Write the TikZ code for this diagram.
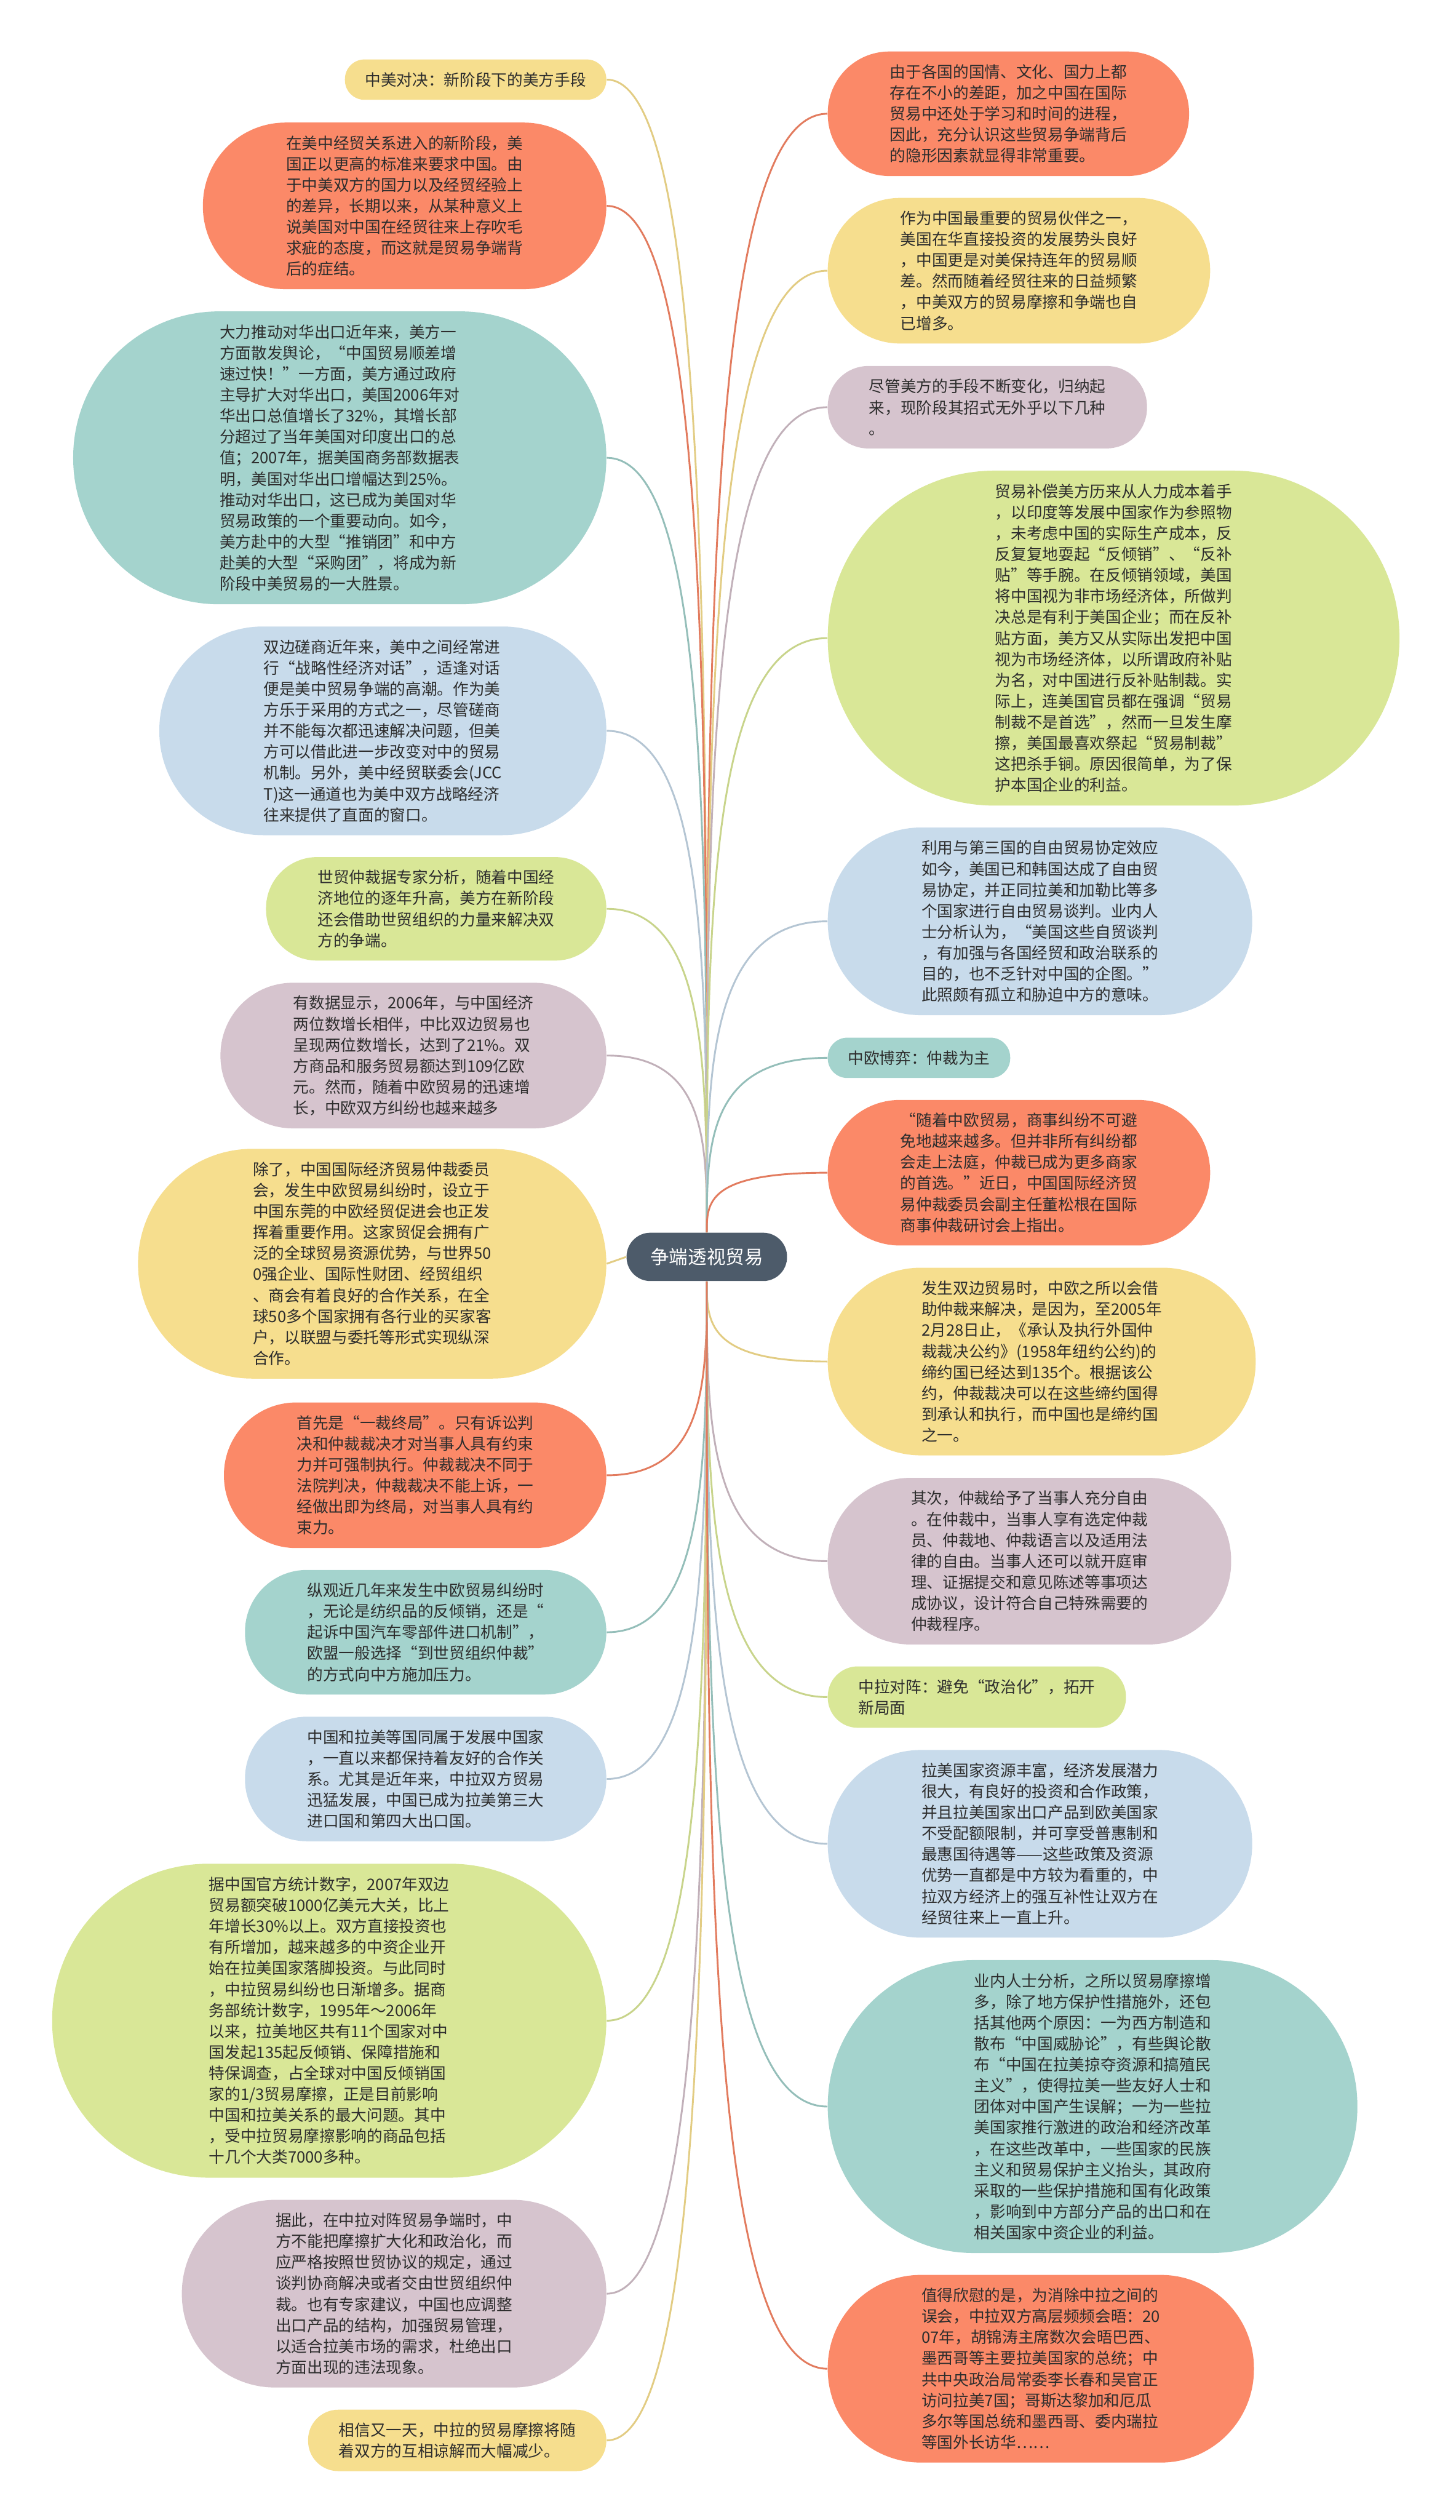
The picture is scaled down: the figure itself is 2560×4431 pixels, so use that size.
\documentclass[tikz,border=0pt]{standalone}
\usepackage{fontspec}
\usetikzlibrary{calc}
\newfontfamily\cjk{Noto Sans CJK SC}
\definecolor{Ink}{RGB}{45,45,45}
\definecolor{RootSlate}{RGB}{77,91,106}
\definecolor{LeafOrange}{RGB}{251,137,104}
\definecolor{LeafYellow}{RGB}{246,222,142}
\definecolor{LeafGreen}{RGB}{217,231,151}
\definecolor{LeafBlue}{RGB}{200,219,235}
\definecolor{LeafTeal}{RGB}{164,211,205}
\definecolor{LeafPink}{RGB}{214,196,206}
\tikzset{
  % #1 = number of text lines; the ends are half circles
  leaf/.style={rectangle, align=left, text=Ink, inner ysep=1mm,
    minimum height={(3.7*#1+3.4)*1mm}, rounded corners={(1.85*#1+1.6)*1mm},
    inner xsep={(1.85*#1+1.7)*1mm}, font=\cjk\fontsize{7.9pt}{10.5pt}\selectfont},
  lorange/.style={leaf=#1, fill=LeafOrange},
  lyellow/.style={leaf=#1, fill=LeafYellow},
  lgreen/.style={leaf=#1, fill=LeafGreen},
  lblue/.style={leaf=#1, fill=LeafBlue},
  lteal/.style={leaf=#1, fill=LeafTeal},
  lpink/.style={leaf=#1, fill=LeafPink},
  root/.style={rectangle, fill=RootSlate, text=white, minimum height=8.5mm, rounded corners=4.2mm,
    inner xsep=4.2mm, inner ysep=1mm, font=\cjk\fontsize{9.4pt}{11pt}\selectfont},
  link/.style={line width=0.9pt, to path={.. controls ($(\tikztostart)!0.5!(\tikztostart|-\tikztotarget)$)
    and (\tikztostart|-\tikztotarget) .. (\tikztotarget)}},
}

\begin{document}
\begin{tikzpicture}[x=0.1mm, y=-0.1mm]
\useasboundingbox (0,0) rectangle (2560,4431);

% ================= centre =================
\node[root] (trade) at (1243,2210) {争端透视贸易};

% ================= left column =================
\node[lyellow=1, anchor=east] (usTitle) at (1067,140) {中美对决：新阶段下的美方手段};
\node[lorange=7, anchor=east] (usGap) at (1067,362) {在美中经贸关系进入的新阶段，美\\国正以更高的标准来要求中国。由\\于中美双方的国力以及经贸经验上\\的差异，长期以来，从某种意义上\\说美国对中国在经贸往来上存吹毛\\求疵的态度，而这就是贸易争端背\\后的症结。};
\node[lteal=13, anchor=east] (usExport) at (1067,805) {大力推动对华出口近年来，美方一\\方面散发舆论，“中国贸易顺差增\\速过快！”一方面，美方通过政府\\主导扩大对华出口，美国2006年对\\华出口总值增长了32\%，其增长部\\分超过了当年美国对印度出口的总\\值；2007年，据美国商务部数据表\\明，美国对华出口增幅达到25\%。\\推动对华出口，这已成为美国对华\\贸易政策的一个重要动向。如今，\\美方赴中的大型“推销团”和中方\\赴美的大型“采购团”，将成为新\\阶段中美贸易的一大胜景。};
\node[lblue=9, anchor=east] (usTalks) at (1067,1285) {双边磋商近年来，美中之间经常进\\行“战略性经济对话”，适逢对话\\便是美中贸易争端的高潮。作为美\\方乐于采用的方式之一，尽管磋商\\并不能每次都迅速解决问题，但美\\方可以借此进一步改变对中的贸易\\机制。另外，美中经贸联委会(JCC\\T)这一通道也为美中双方战略经济\\往来提供了直面的窗口。};
\node[lgreen=4, anchor=east] (usWto) at (1067,1598) {世贸仲裁据专家分析，随着中国经\\济地位的逐年升高，美方在新阶段\\还会借助世贸组织的力量来解决双\\方的争端。};
\node[lpink=6, anchor=east] (euData) at (1067,1856) {有数据显示，2006年，与中国经济\\两位数增长相伴，中比双边贸易也\\呈现两位数增长，达到了21\%。双\\方商品和服务贸易额达到109亿欧\\元。然而，随着中欧贸易的迅速增\\长，中欧双方纠纷也越来越多};
\node[lyellow=10, anchor=east] (euDongguan) at (1067,2222) {除了，中国国际经济贸易仲裁委员\\会，发生中欧贸易纠纷时，设立于\\中国东莞的中欧经贸促进会也正发\\挥着重要作用。这家贸促会拥有广\\泛的全球贸易资源优势，与世界50\\0强企业、国际性财团、经贸组织\\、商会有着良好的合作关系，在全\\球50多个国家拥有各行业的买家客\\户，以联盟与委托等形式实现纵深\\合作。};
\node[lorange=6, anchor=east] (euFinal) at (1067,2594) {首先是“一裁终局”。只有诉讼判\\决和仲裁裁决才对当事人具有约束\\力并可强制执行。仲裁裁决不同于\\法院判决，仲裁裁决不能上诉，一\\经做出即为终局，对当事人具有约\\束力。};
\node[lteal=5, anchor=east] (euWto) at (1067,2870) {纵观近几年来发生中欧贸易纠纷时\\，无论是纺织品的反倾销，还是“\\起诉中国汽车零部件进口机制”，\\欧盟一般选择“到世贸组织仲裁”\\的方式向中方施加压力。};
\node[lblue=5, anchor=east] (laFriend) at (1067,3128) {中国和拉美等国同属于发展中国家\\，一直以来都保持着友好的合作关\\系。尤其是近年来，中拉双方贸易\\迅猛发展，中国已成为拉美第三大\\进口国和第四大出口国。};
\node[lgreen=14, anchor=east] (laData) at (1067,3553) {据中国官方统计数字，2007年双边\\贸易额突破1000亿美元大关，比上\\年增长30\%以上。双方直接投资也\\有所增加，越来越多的中资企业开\\始在拉美国家落脚投资。与此同时\\，中拉贸易纠纷也日渐增多。据商\\务部统计数字，1995年～2006年\\以来，拉美地区共有11个国家对中\\国发起135起反倾销、保障措施和\\特保调查，占全球对中国反倾销国\\家的1/3贸易摩擦，正是目前影响\\中国和拉美关系的最大问题。其中\\，受中拉贸易摩擦影响的商品包括\\十几个大类7000多种。};
\node[lpink=8, anchor=east] (laAdvice) at (1067,4033) {据此，在中拉对阵贸易争端时，中\\方不能把摩擦扩大化和政治化，而\\应严格按照世贸协议的规定，通过\\谈判协商解决或者交由世贸组织仲\\裁。也有专家建议，中国也应调整\\出口产品的结构，加强贸易管理，\\以适合拉美市场的需求，杜绝出口\\方面出现的违法现象。};
\node[lyellow=2, anchor=east] (laHope) at (1067,4291) {相信又一天，中拉的贸易摩擦将随\\着双方的互相谅解而大幅减少。};

% ================= right column =================
\node[lorange=5, anchor=west] (usHidden) at (1455,200) {由于各国的国情、文化、国力上都\\存在不小的差距，加之中国在国际\\贸易中还处于学习和时间的进程，\\因此，充分认识这些贸易争端背后\\的隐形因素就显得非常重要。};
\node[lyellow=6, anchor=west] (usPartner) at (1455,476) {作为中国最重要的贸易伙伴之一，\\美国在华直接投资的发展势头良好\\，中国更是对美保持连年的贸易顺\\差。然而随着经贸往来的日益频繁\\，中美双方的贸易摩擦和争端也自\\已增多。};
\node[lpink=3, anchor=west] (usSummary) at (1455,716) {尽管美方的手段不断变化，归纳起\\来，现阶段其招式无外乎以下几种\\。};
\node[lgreen=15, anchor=west] (usCompensate) at (1455,1122) {贸易补偿美方历来从人力成本着手\\，以印度等发展中国家作为参照物\\，未考虑中国的实际生产成本，反\\反复复地耍起“反倾销”、“反补\\贴”等手腕。在反倾销领域，美国\\将中国视为非市场经济体，所做判\\决总是有利于美国企业；而在反补\\贴方面，美方又从实际出发把中国\\视为市场经济体，以所谓政府补贴\\为名，对中国进行反补贴制裁。实\\际上，连美国官员都在强调“贸易\\制裁不是首选”，然而一旦发生摩\\擦，美国最喜欢祭起“贸易制裁”\\这把杀手锏。原因很简单，为了保\\护本国企业的利益。};
\node[lblue=8, anchor=west] (usFta) at (1455,1620) {利用与第三国的自由贸易协定效应\\如今，美国已和韩国达成了自由贸\\易协定，并正同拉美和加勒比等多\\个国家进行自由贸易谈判。业内人\\士分析认为，“美国这些自贸谈判\\，有加强与各国经贸和政治联系的\\目的，也不乏针对中国的企图。”\\此照颇有孤立和胁迫中方的意味。};
\node[lteal=1, anchor=west] (euTitle) at (1455,1860) {中欧博弈：仲裁为主};
\node[lorange=6, anchor=west] (euQuote) at (1455,2062) {“随着中欧贸易，商事纠纷不可避\\免地越来越多。但并非所有纠纷都\\会走上法庭，仲裁已成为更多商家\\的首选。”近日，中国国际经济贸\\易仲裁委员会副主任董松根在国际\\商事仲裁研讨会上指出。};
\node[lyellow=8, anchor=west] (euTreaty) at (1455,2394) {发生双边贸易时，中欧之所以会借\\助仲裁来解决，是因为，至2005年\\2月28日止，《承认及执行外国仲\\裁裁决公约》(1958年纽约公约)的\\缔约国已经达到135个。根据该公\\约，仲裁裁决可以在这些缔约国得\\到承认和执行，而中国也是缔约国\\之一。};
\node[lpink=7, anchor=west] (euFreedom) at (1455,2745) {其次，仲裁给予了当事人充分自由\\。在仲裁中，当事人享有选定仲裁\\员、仲裁地、仲裁语言以及适用法\\律的自由。当事人还可以就开庭审\\理、证据提交和意见陈述等事项达\\成协议，设计符合自己特殊需要的\\仲裁程序。};
\node[lgreen=2, anchor=west] (laTitle) at (1455,2984) {中拉对阵：避免“政治化”，拓开\\新局面};
\node[lblue=8, anchor=west] (laResource) at (1455,3242) {拉美国家资源丰富，经济发展潜力\\很大，有良好的投资和合作政策，\\并且拉美国家出口产品到欧美国家\\不受配额限制，并可享受普惠制和\\最惠国待遇等——这些政策及资源\\优势一直都是中方较为看重的，中\\拉双方经济上的强互补性让双方在\\经贸往来上一直上升。};
\node[lteal=13, anchor=west] (laReasons) at (1455,3704) {业内人士分析，之所以贸易摩擦增\\多，除了地方保护性措施外，还包\\括其他两个原因：一为西方制造和\\散布“中国威胁论”，有些舆论散\\布“中国在拉美掠夺资源和搞殖民\\主义”，使得拉美一些友好人士和\\团体对中国产生误解；一为一些拉\\美国家推行激进的政治和经济改革\\，在这些改革中，一些国家的民族\\主义和贸易保护主义抬头，其政府\\采取的一些保护措施和国有化政策\\，影响到中方部分产品的出口和在\\相关国家中资企业的利益。};
\node[lorange=8, anchor=west] (laMeeting) at (1455,4165) {值得欣慰的是，为消除中拉之间的\\误会，中拉双方高层频频会晤：20\\07年，胡锦涛主席数次会晤巴西、\\墨西哥等主要拉美国家的总统；中\\共中央政治局常委李长春和吴官正\\访问拉美7国；哥斯达黎加和厄瓜\\多尔等国总统和墨西哥、委内瑞拉\\等国外长访华……};

% ================= branches, left =================
\draw[link, LeafYellow!92!black] (trade.north) to (usTitle.east);
\draw[link, LeafOrange!90!black] (trade.north) to (usGap.east);
\draw[link, LeafTeal!90!black] (trade.north) to (usExport.east);
\draw[link, LeafBlue!90!black] (trade.north) to (usTalks.east);
\draw[link, LeafGreen!92!black] (trade.north) to (usWto.east);
\draw[link, LeafPink!90!black] (trade.north) to (euData.east);
\draw[line width=0.9pt, LeafYellow!92!black] (trade.west) -- (euDongguan.east);
\draw[link, LeafOrange!90!black] (trade.south) to (euFinal.east);
\draw[link, LeafTeal!90!black] (trade.south) to (euWto.east);
\draw[link, LeafBlue!90!black] (trade.south) to (laFriend.east);
\draw[link, LeafGreen!92!black] (trade.south) to (laData.east);
\draw[link, LeafPink!90!black] (trade.south) to (laAdvice.east);
\draw[link, LeafYellow!92!black] (trade.south) to (laHope.east);

% ================= branches, right =================
\draw[link, LeafOrange!90!black] (trade.north) to (usHidden.west);
\draw[link, LeafYellow!92!black] (trade.north) to (usPartner.west);
\draw[link, LeafPink!90!black] (trade.north) to (usSummary.west);
\draw[link, LeafGreen!92!black] (trade.north) to (usCompensate.west);
\draw[link, LeafBlue!90!black] (trade.north) to (usFta.west);
\draw[link, LeafTeal!90!black] (trade.north) to (euTitle.west);
\draw[link, LeafOrange!90!black] (trade.north) to (euQuote.west);
\draw[link, LeafYellow!92!black] (trade.south) to (euTreaty.west);
\draw[link, LeafPink!90!black] (trade.south) to (euFreedom.west);
\draw[link, LeafGreen!92!black] (trade.south) to (laTitle.west);
\draw[link, LeafBlue!90!black] (trade.south) to (laResource.west);
\draw[link, LeafTeal!90!black] (trade.south) to (laReasons.west);
\draw[link, LeafOrange!90!black] (trade.south) to (laMeeting.west);

\end{tikzpicture}
\end{document}
